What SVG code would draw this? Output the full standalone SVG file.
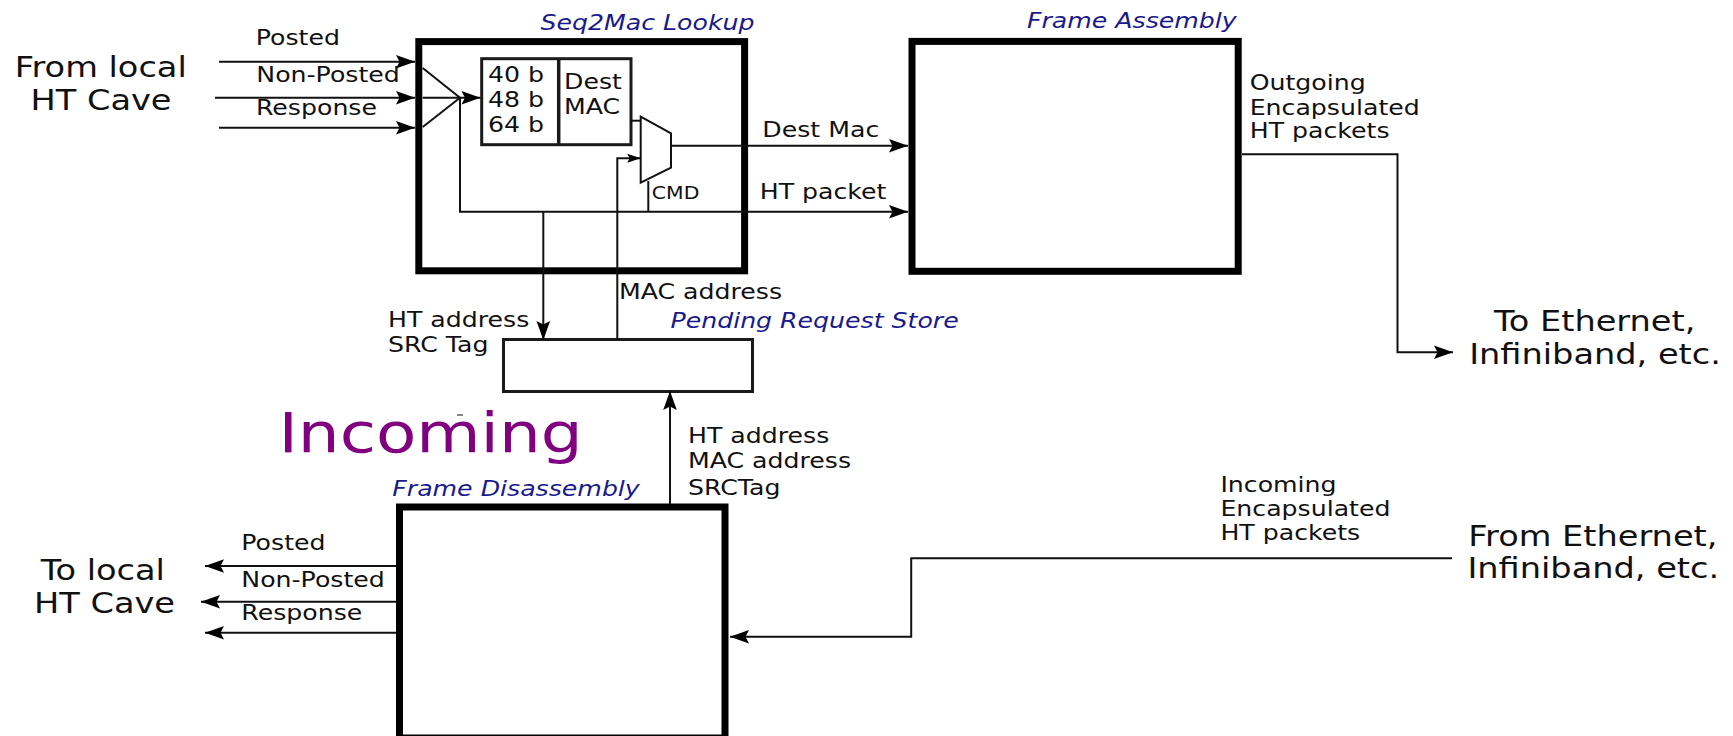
<svg xmlns="http://www.w3.org/2000/svg" width="1733" height="736" viewBox="0 0 1733 736">
<style>
text{font-family:"DejaVu Sans","Liberation Sans",sans-serif;fill:#111}
.m{font-size:21px}
.s{font-size:17px}
.l{font-size:28px;text-anchor:middle}
.t{font-size:21px;font-style:italic;fill:#1a1a8c}
.big{font-size:55px;fill:#800080}
.box{fill:#fff;stroke:#000;stroke-width:7}
.thin{fill:#fff;stroke:#1a1a1a;stroke-width:3}
.c{fill:none;stroke:#111;stroke-width:2}
.ca{fill:none;stroke:#111;stroke-width:2;marker-end:url(#ah)}
.cs{fill:none;stroke:#111;stroke-width:2;marker-end:url(#as)}
</style>
<defs>
<marker id="ah" markerUnits="userSpaceOnUse" viewBox="-21 -8 22 16" markerWidth="22" markerHeight="16" refX="0" refY="0" orient="auto">
<path d="M0,0 L-19,-6.8 L-15.5,0 L-19,6.8 Z" fill="#000"/>
</marker>
<marker id="as" markerUnits="userSpaceOnUse" viewBox="-15 -6 16 12" markerWidth="16" markerHeight="12" refX="0" refY="0" orient="auto">
<path d="M0,0 L-13.5,-4.5 L-11,0 L-13.5,4.5 Z" fill="#000"/>
</marker>
</defs>
<rect width="1733" height="736" fill="#fff"/>

<g id="src-local">
<text class="l" transform="translate(100.7,76.7) scale(1.2,1)">From local</text>
<text class="l" transform="translate(101,110) scale(1.2,1)">HT Cave</text>
</g>

<g id="seq2mac">
<rect class="box" x="418.8" y="41.6" width="325.8" height="229.2"/>
<text class="t" transform="translate(540.5,30) scale(1.2,1)">Seq2Mac Lookup</text>
<g id="table">
<rect class="thin" x="481.7" y="58.7" width="149.3" height="86"/>
<line x1="558.7" y1="58.7" x2="558.7" y2="144.7" stroke="#1a1a1a" stroke-width="3.5"/>
<text class="m" transform="translate(488,81.7) scale(1.2,1)">40 b</text>
<text class="m" transform="translate(488,106.7) scale(1.2,1)">48 b</text>
<text class="m" transform="translate(488,131.7) scale(1.2,1)">64 b</text>
<text class="m" transform="translate(564,89.3) scale(1.2,1)">Dest</text>
<text class="m" transform="translate(564,114.3) scale(1.2,1)">MAC</text>
</g>
<g id="mux">
<polygon points="640.7,116.7 671,133.3 671,167.7 640.7,182.7" fill="#fff" stroke="#111" stroke-width="2"/>
</g>
</g>

<g id="frame-assembly">
<rect class="box" x="912" y="41.4" width="326.2" height="229.9"/>
<text class="t" transform="translate(1027,27.7) scale(1.2,1)">Frame Assembly</text>
</g>

<g id="pending-store">
<rect class="thin" x="503.5" y="339.5" width="249" height="52"/>
<text class="t" transform="translate(670.5,327.7) scale(1.2,1)">Pending Request Store</text>
</g>

<g id="frame-disassembly">
<rect class="box" x="399.5" y="507" width="325.5" height="231"/>
<text class="t" transform="translate(392.3,495.5) scale(1.2,1)">Frame Disassembly</text>
</g>

<g id="dst-ethernet">
<text class="l" transform="translate(1594.7,331) scale(1.2,1)">To Ethernet,</text>
<text class="l" transform="translate(1595,364.3) scale(1.2,1)">Infiniband, etc.</text>
</g>

<g id="src-ethernet">
<text class="l" transform="translate(1592.8,546) scale(1.2,1)">From Ethernet,</text>
<text class="l" transform="translate(1593.3,578.3) scale(1.2,1)">Infiniband, etc.</text>
</g>

<g id="dst-local">
<text class="l" transform="translate(102.8,580) scale(1.2,1)">To local</text>
<text class="l" transform="translate(104.5,613.3) scale(1.2,1)">HT Cave</text>
</g>

<g id="incoming-title">
<text class="big" transform="translate(278.4,452) scale(1.2,1)">Incoming</text>
<line x1="457" y1="415" x2="463" y2="415" stroke="#333" stroke-width="1.2"/>
</g>

<g id="connectors">
<path class="ca" d="M219,61.7 H415"/>
<path class="ca" d="M215,97.7 H415"/>
<path class="ca" d="M219,127.7 H415"/>
<path class="c" d="M422.7,68 L460,97.7"/>
<path class="c" d="M422.7,127 L460,97.7"/>
<path class="ca" d="M422.7,97.7 H480.5"/>
<path class="ca" d="M460,97.7 V211.7 H908"/>
<path class="c" d="M631,120.7 H641"/>
<path class="ca" d="M671,145.7 H908"/>
<path class="c" d="M648.3,181 V211.7"/>
<path class="cs" d="M617.3,339.5 V158.3 H640.7"/>
<path class="ca" d="M543.3,211.7 V340"/>
<path class="ca" d="M670,504 V391"/>
<path class="ca" d="M1242,154.3 H1397.5 V352.3 H1453"/>
<path class="ca" d="M1452,558.3 H911.2 V636.7 H730"/>
<path class="ca" d="M396,566 H205"/>
<path class="ca" d="M396,601.7 H201"/>
<path class="ca" d="M396,632.7 H205"/>
<g id="labels">
<text class="m" transform="translate(255.7,45) scale(1.2,1)">Posted</text>
<text class="m" transform="translate(256.3,82) scale(1.2,1)">Non-Posted</text>
<text class="m" transform="translate(256,115.3) scale(1.2,1)">Response</text>
<text class="m" transform="translate(762.3,136.7) scale(1.2,1)">Dest Mac</text>
<text class="m" transform="translate(759.7,199.3) scale(1.2,1)">HT packet</text>
<text class="s" transform="translate(651.8,199.3) scale(1.2,1)">CMD</text>
<text class="m" transform="translate(619,299.3) scale(1.2,1)">MAC address</text>
<text class="m" transform="translate(388,326.7) scale(1.2,1)">HT address</text>
<text class="m" transform="translate(388,351.7) scale(1.2,1)">SRC Tag</text>
<text class="m" transform="translate(1249.7,90) scale(1.2,1)">Outgoing</text>
<text class="m" transform="translate(1249.7,115) scale(1.2,1)">Encapsulated</text>
<text class="m" transform="translate(1249.7,138.3) scale(1.2,1)">HT packets</text>
<text class="m" transform="translate(688,443.3) scale(1.2,1)">HT address</text>
<text class="m" transform="translate(688,468.3) scale(1.2,1)">MAC address</text>
<text class="m" transform="translate(688,494.5) scale(1.2,1)">SRCTag</text>
<text class="m" transform="translate(1220.4,491.7) scale(1.2,1)">Incoming</text>
<text class="m" transform="translate(1220.4,516) scale(1.2,1)">Encapsulated</text>
<text class="m" transform="translate(1220.4,540) scale(1.2,1)">HT packets</text>
<text class="m" transform="translate(241.3,550) scale(1.2,1)">Posted</text>
<text class="m" transform="translate(241.3,586.7) scale(1.2,1)">Non-Posted</text>
<text class="m" transform="translate(241.3,619.5) scale(1.2,1)">Response</text>
</g>
</g>
</svg>
